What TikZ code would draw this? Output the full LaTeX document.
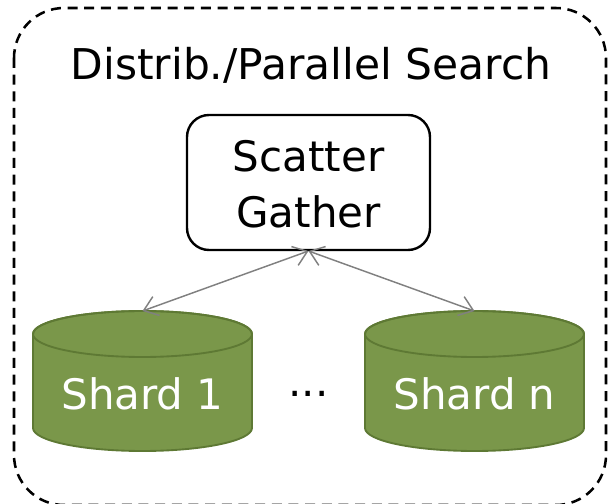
\documentclass[tikz,border=0pt]{standalone}
\usepackage{fontspec}
\setmainfont{DejaVu Sans}
\usetikzlibrary{arrows.meta}

\definecolor{shardfill}{RGB}{122,151,74}
\definecolor{shardline}{RGB}{94,121,52}
\definecolor{linkgray}{RGB}{128,128,128}

\tikzset{
  titletext/.style={font=\fontsize{31.8}{42}\selectfont, inner sep=0pt, anchor=base},
  bigtext/.style={font=\fontsize{31.5}{42}\selectfont, inner sep=0pt, anchor=base},
  outerframe/.style={draw=black, line width=1.9pt, dash pattern=on 7.5pt off 5pt,
                     rounded corners=37.5pt},
  sgbox/.style={draw=black, line width=1.8pt, rounded corners=16.5pt, fill=white},
  cylbody/.style={fill=shardfill, draw=shardline, line width=1.4pt},
  link/.style={draw=linkgray, line width=1.1pt,
               {Straight Barb[length=10pt,width=15pt]}-{Straight Barb[length=10pt,width=15pt]}},
}

% cylinder drawn at centre x = #1, text name #2, label #3
\newcommand{\drawshard}[3]{%
  \path[cylbody] (#1-109.5,170) -- (#1-109.5,76)
     arc[start angle=180, end angle=360, x radius=109.5, y radius=23]
     -- (#1+109.5,170)
     arc[start angle=0, end angle=180, x radius=109.5, y radius=23] -- cycle;
  \draw[shardline, line width=1.4pt] (#1,170) ellipse[x radius=109.5, y radius=23];
  \coordinate (#2top) at (#1,193);
  \node[bigtext, text=white] (#2) at (#1,94) {#3};
}

\begin{document}
\begin{tikzpicture}[x=0.75pt, y=0.75pt]
  \useasboundingbox (0,0) rectangle (608,504);
  \clip (0,0) rectangle (608,504);

  % dashed outer frame
  \draw[outerframe] (14,496) rectangle (606,-1);
  \node[titletext] (title) at (311,424) {Distrib./Parallel Search};

  % scatter/gather box
  \draw[sgbox] (187,254) rectangle (430,389);
  \coordinate (sgsouth) at (308.5,253);
  \node[bigtext] (sgscatter) at (308.5,332) {Scatter};
  \node[bigtext] (sggather) at (308.5,276) {Gather};

  % shards
  \drawshard{142.5}{shardA}{Shard 1}
  \drawshard{474.5}{shardN}{Shard n}
  \node[bigtext] (dots) at (308.5,107) {...};

  % links
  \draw[link] (sgsouth) -- (shardAtop);
  \draw[link] (sgsouth) -- (shardNtop);
\end{tikzpicture}
\end{document}
